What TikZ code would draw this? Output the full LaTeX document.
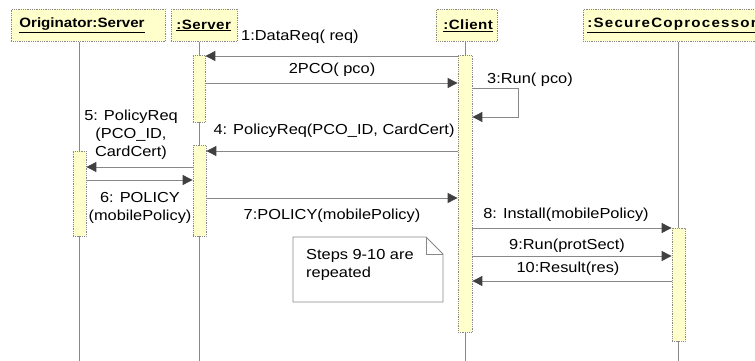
\documentclass[tikz,border=0pt]{standalone}
\usepackage{fontspec}
\setmainfont{Liberation Sans}
\newfontfamily\lblfont[FakeStretch=1.13]{Liberation Sans}
\newfontfamily\hdfont[FakeStretch=1.12,LetterSpace=3]{Liberation Sans}
\usetikzlibrary{arrows.meta,calc}
\definecolor{boxfill}{HTML}{FFFFCC}
\definecolor{linegray}{HTML}{888888}
\definecolor{tipgray}{HTML}{404040}
\begin{document}
\begin{tikzpicture}[x=1pt,y=-1pt,
  head/.style={draw=linegray, densely dotted, line width=0.8pt, fill=boxfill, minimum height=32pt, inner ysep=0pt, anchor=north west, align=left, font=\hdfont\fontsize{13.5}{15}\selectfont\bfseries},
  actbar/.style={draw=linegray, densely dotted, line width=0.8pt, fill=boxfill, inner sep=0pt, anchor=north},
  life/.style={draw=linegray, line width=0.9pt},
  msg/.style={draw=linegray, line width=0.9pt, -{Triangle[length=10pt,width=10pt,fill=tipgray,color=tipgray]}},
  lbl/.style={font=\lblfont\fontsize{14.5}{18}\selectfont, inner sep=0pt, text=black, align=center},
]
\useasboundingbox (0,0) rectangle (755,361);
\clip (0,0) rectangle (755,361);
% headers
\node[head, inner xsep=8pt, text width=138pt] (hO) at (11,9) {\addfontfeatures{LetterSpace=0}\underline{Originator:Server}};
\node[head, inner xsep=5pt, text width=56pt] (hS) at (171,9) {\underline{:Server}};
\node[head, inner xsep=7pt, text width=47pt] (hC) at (436,9) {\underline{:Client}};
\node[head, inner xsep=4pt, text width=180pt] (hX) at (583,9) {\addfontfeatures{LetterSpace=9}\underline{:SecureCoprocessor}};
% lifelines
\coordinate (eO) at (79,361);
\coordinate (eS) at (199,361);
\coordinate (eC) at (465,361);
\coordinate (eX) at (678,361);
\draw[life] (hO.south -| eO) -- (eO);
\draw[life] (hS.south -| eS) -- (eS);
\draw[life] (hC.south -| eC) -- (eC);
\draw[life] (hX.south -| eX) -- (eX);
% activation bars
\node[actbar, minimum width=13pt, minimum height=85pt] (bO) at (79.5,151) {};
\node[actbar, minimum width=12pt, minimum height=67pt] (bS1) at (199,55) {};
\node[actbar, minimum width=13pt, minimum height=91pt] (bS2) at (199.5,145) {};
\node[actbar, minimum width=14pt, minimum height=277pt] (bC) at (465,55) {};
\node[actbar, minimum width=13pt, minimum height=113pt] (bX) at (678.5,228) {};
% messages
\draw[msg] (bC.west |- 0,56) -- (bS1.east |- 0,56);
\node[lbl, anchor=west] (l1) at (241,37) {1:DataReq( req)};
\draw[msg] (bS1.east |- 0,83) -- (bC.west |- 0,83);
\node[lbl] (l2) at (332,70) {2PCO( pco)};
\coordinate (s3a) at (518,88);
\coordinate (s3b) at (518,117);
\draw[msg] (bC.east |- s3a) -- (s3a) -- (s3b) -- (bC.east |- s3b);
\node[lbl, anchor=west] (l3) at (487,80) {3:Run( pco)};
\draw[msg] (bC.west |- 0,151) -- (bS2.east |- 0,151);
\node[lbl] (l4) at (334,131) {4: PolicyReq(PCO\_ID, CardCert)};
\draw[msg] (bS2.west |- 0,167) -- (bO.east |- 0,167);
\node[lbl] (l5) at (131,135) {5: PolicyReq\\(PCO\_ID,\\CardCert)};
\draw[msg] (bO.east |- 0,180) -- (bS2.west |- 0,180);
\node[lbl] (l6) at (140,207.5) {6: POLICY\\(mobilePolicy)};
\draw[msg] (bS2.east |- 0,198) -- (bC.west |- 0,198);
\node[lbl] (l7) at (332,216) {7:POLICY(mobilePolicy)};
\draw[msg] (bC.east |- 0,228) -- (bX.west |- 0,228);
\node[lbl] (l8) at (566,215) {8: Install(mobilePolicy)};
\draw[msg] (bC.east |- 0,256) -- (bX.west |- 0,256);
\node[lbl] (l9) at (567,246) {9:Run(protSect)};
\draw[msg] (bX.west |- 0,281) -- (bC.east |- 0,281);
\node[lbl] (l10) at (568,269) {10:Result(res)};
% note
\draw[draw=linegray, line width=0.9pt, fill=white] (293,237) -- (426,237) -- (443,254) -- (443,302) -- (293,302) -- cycle;
\draw[draw=linegray, line width=0.9pt] (426,237) -- (426,254) -- (443,254);
\node[lbl, anchor=north west, align=left] (note) at (306,249) {Steps 9-10 are\\repeated};
\end{tikzpicture}
\end{document}
